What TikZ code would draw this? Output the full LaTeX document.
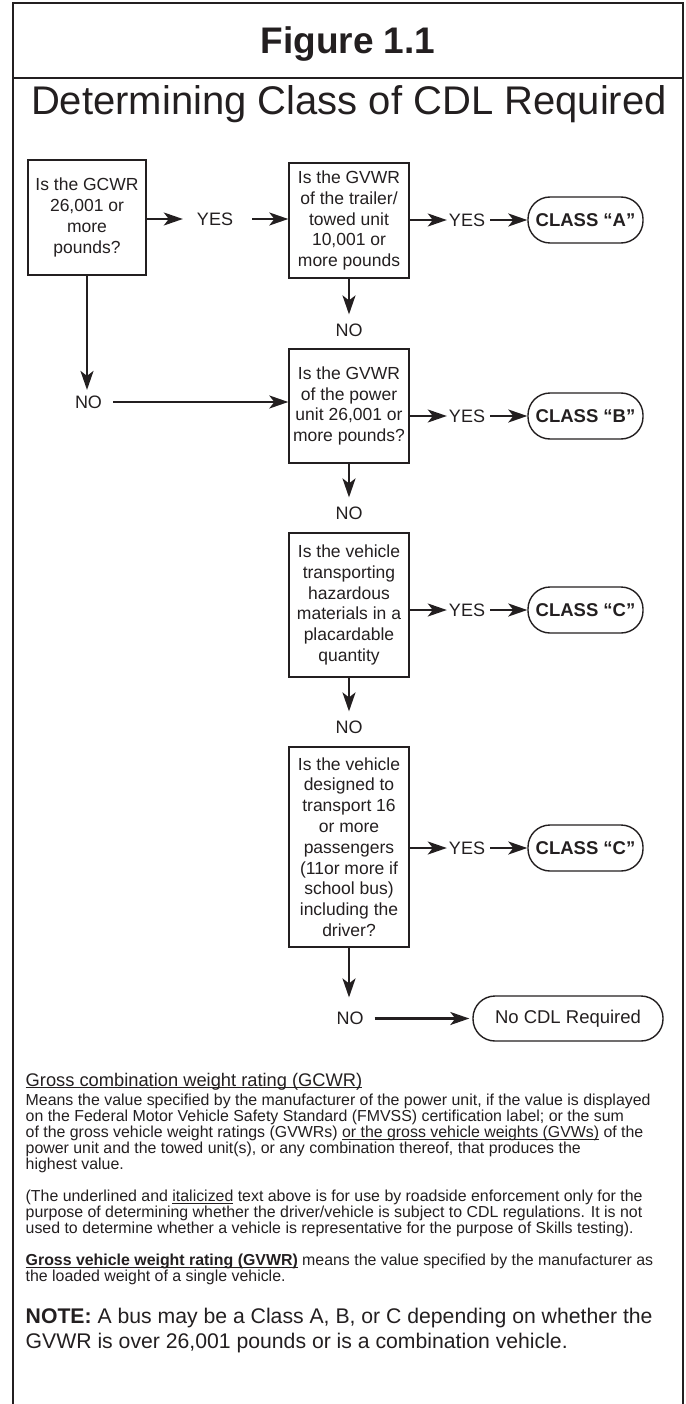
\documentclass[tikz,border=0pt]{standalone}
\usepackage{fontspec}
\setmainfont{Liberation Sans}
\usetikzlibrary{arrows.meta}
\definecolor{K1}{RGB}{35,31,32}
\lineskiplimit=-20pt
\newcommand\undl[1]{\leavevmode\setbox0\hbox{#1}\rlap{\vrule height -1.3pt depth 2.2pt width \wd0}\box0\relax}

\begin{document}
\begin{tikzpicture}[x=1pt,y=-1pt,K1,
    box/.style={draw,line width=1.4pt,inner sep=0pt,align=center,font=\fontsize{17.5}{20.8}\selectfont},
    cls/.style={draw,line width=1.4pt,rounded corners=22pt,minimum width=115pt,minimum height=46pt,font=\fontsize{18.5}{20}\selectfont\bfseries},
    lab/.style={inner sep=0pt,font=\fontsize{18}{20}\selectfont},
    arr/.style={line width=2.3pt,-{Stealth[length=19pt,width=13pt,inset=5pt]}},
    txt/.style={anchor=base west,inner sep=0pt,align=left}]
  \useasboundingbox (0,0) rectangle (685,1404);
  \draw[line width=1.2pt] (13,1404) -- (13,3) -- (683,3) -- (683,1404);
  \draw[line width=1.2pt] (13,78) -- (683,78);
  \node[anchor=base,font=\fontsize{37}{40}\selectfont\bfseries] (fig) at (348,54) {Figure 1.1};
  \node[anchor=base,font=\fontsize{40}{44}\selectfont] (ttl) at (349,115) {Determining Class of CDL Required};

  \node[box,minimum width=118pt,minimum height=115pt] (q1) at (87,217.5) {Is the GCWR\\26,001 or\\more\\pounds?};
  \node[box,minimum width=120pt,minimum height=115pt] (q2) at (349,220.5) {Is the GVWR\\of the trailer/\\towed unit\\10,001 or\\more pounds};
  \node[box,minimum width=120pt,minimum height=114pt] (q3) at (349,406) {Is the GVWR\\of the power\\unit 26,001 or\\more pounds?};
  \node[box,minimum width=120pt,minimum height=144pt] (q4) at (349,605) {Is the vehicle\\transporting\\hazardous\\materials in a\\placardable\\quantity};
  \node[box,minimum width=120pt,minimum height=200pt] (q5) at (349,847) {Is the vehicle\\designed to\\transport 16\\or more\\passengers\\(11or more if\\school bus)\\including the\\driver?};

  \node[lab] (y1) at (215,219) {YES};
  \node[lab] (y2) at (467,220) {YES};
  \node[lab] (y3) at (467,416) {YES};
  \node[lab] (y4) at (467,610) {YES};
  \node[lab] (y5) at (467,848) {YES};
  \node[lab] (n1) at (88.5,402) {NO};
  \node[lab] (n2) at (349,330) {NO};
  \node[lab] (n3) at (349,513) {NO};
  \node[lab] (n4) at (349,727) {NO};
  \node[lab] (n5) at (350,1018.5) {NO};

  \node[cls] (ca) at (585.5,220) {CLASS “A”};
  \node[cls] (cb) at (585.5,416) {CLASS “B”};
  \node[cls] (cc) at (585.5,610) {CLASS “C”};
  \node[cls] (cd) at (585.5,848) {CLASS “C”};
  \node[cls,minimum width=190pt,minimum height=45pt,font=\fontsize{18.5}{20}\selectfont] (nocdl) at (568,1018.5) {No CDL Required};

  \draw[arr,shorten >=14pt] (q1.east |- y1) -- (y1);
  \draw[arr,shorten <=19pt] (y1) -- (q2.west |- y1);
  \draw[arr,shorten >=2pt] (q2.east |- y2) -- (y2);
  \draw[arr,shorten <=5pt] (y2) -- (ca);
  \draw[arr,shorten >=5.5pt] (q1.south) -- (q1.south |- n1.north);
  \draw[arr,shorten <=11pt] (n1) -- (q3.west |- n1);
  \draw[arr,shorten >=9pt] (q2) -- (n2);
  \draw[arr,shorten >=2pt] (q3.east |- y3) -- (y3);
  \draw[arr,shorten <=5pt] (y3) -- (cb);
  \draw[arr,shorten >=9pt] (q3) -- (n3);
  \draw[arr,shorten >=2pt] (q4.east |- y4) -- (y4);
  \draw[arr,shorten <=5pt] (y4) -- (cc);
  \draw[arr,shorten >=9pt] (q4) -- (n4);
  \draw[arr,shorten >=2pt] (q5.east |- y5) -- (y5);
  \draw[arr,shorten <=5pt] (y5) -- (cd);
  \draw[arr,shorten >=14.5pt] (q5.south) -- (q5.south |- n5.north);
  \draw[arr,shorten <=11pt,shorten >=3pt] (n5) -- (nocdl);

  \node[txt,font=\fontsize{18.3}{20}\selectfont] (gcwr) at (25.5,1086) {\undl{Gross combination weight rating (GCWR)}};
  \node[txt,font=\fontsize{15.9}{16}\selectfont] (means) at (25.5,1169.7) {Means the value specified by the manufacturer of the power unit, if the value is displayed\\on the Federal Motor Vehicle Safety Standard (FMVSS) certification label; or the sum\\of the gross vehicle weight ratings (GVWRs) \undl{or the gross vehicle weights (GVWs)} of the\\power unit and the towed unit(s), or any combination thereof, that produces the\\highest value.};
  \node[txt,font=\fontsize{15.9}{16}\selectfont] (under) at (25.5,1233.7) {(The underlined and \undl{italicized} text above is for use by roadside enforcement only for the\\purpose of determining whether the driver/vehicle is subject to CDL regulations. It is not\\used to determine whether a vehicle is representative for the purpose of Skills testing).};
  \node[txt,font=\fontsize{15.9}{16}\selectfont] (gvwr) at (25.5,1281.7) {\undl{\textbf{Gross vehicle weight rating (GVWR)}} means the value specified by the manufacturer as\\the loaded weight of a single vehicle.};
  \node[txt,font=\fontsize{21.2}{25}\selectfont] (note) at (25.5,1348.6) {\textbf{NOTE:} A bus may be a Class A, B, or C depending on whether the\\GVWR is over 26,001 pounds or is a combination vehicle.};
\end{tikzpicture}
\end{document}
